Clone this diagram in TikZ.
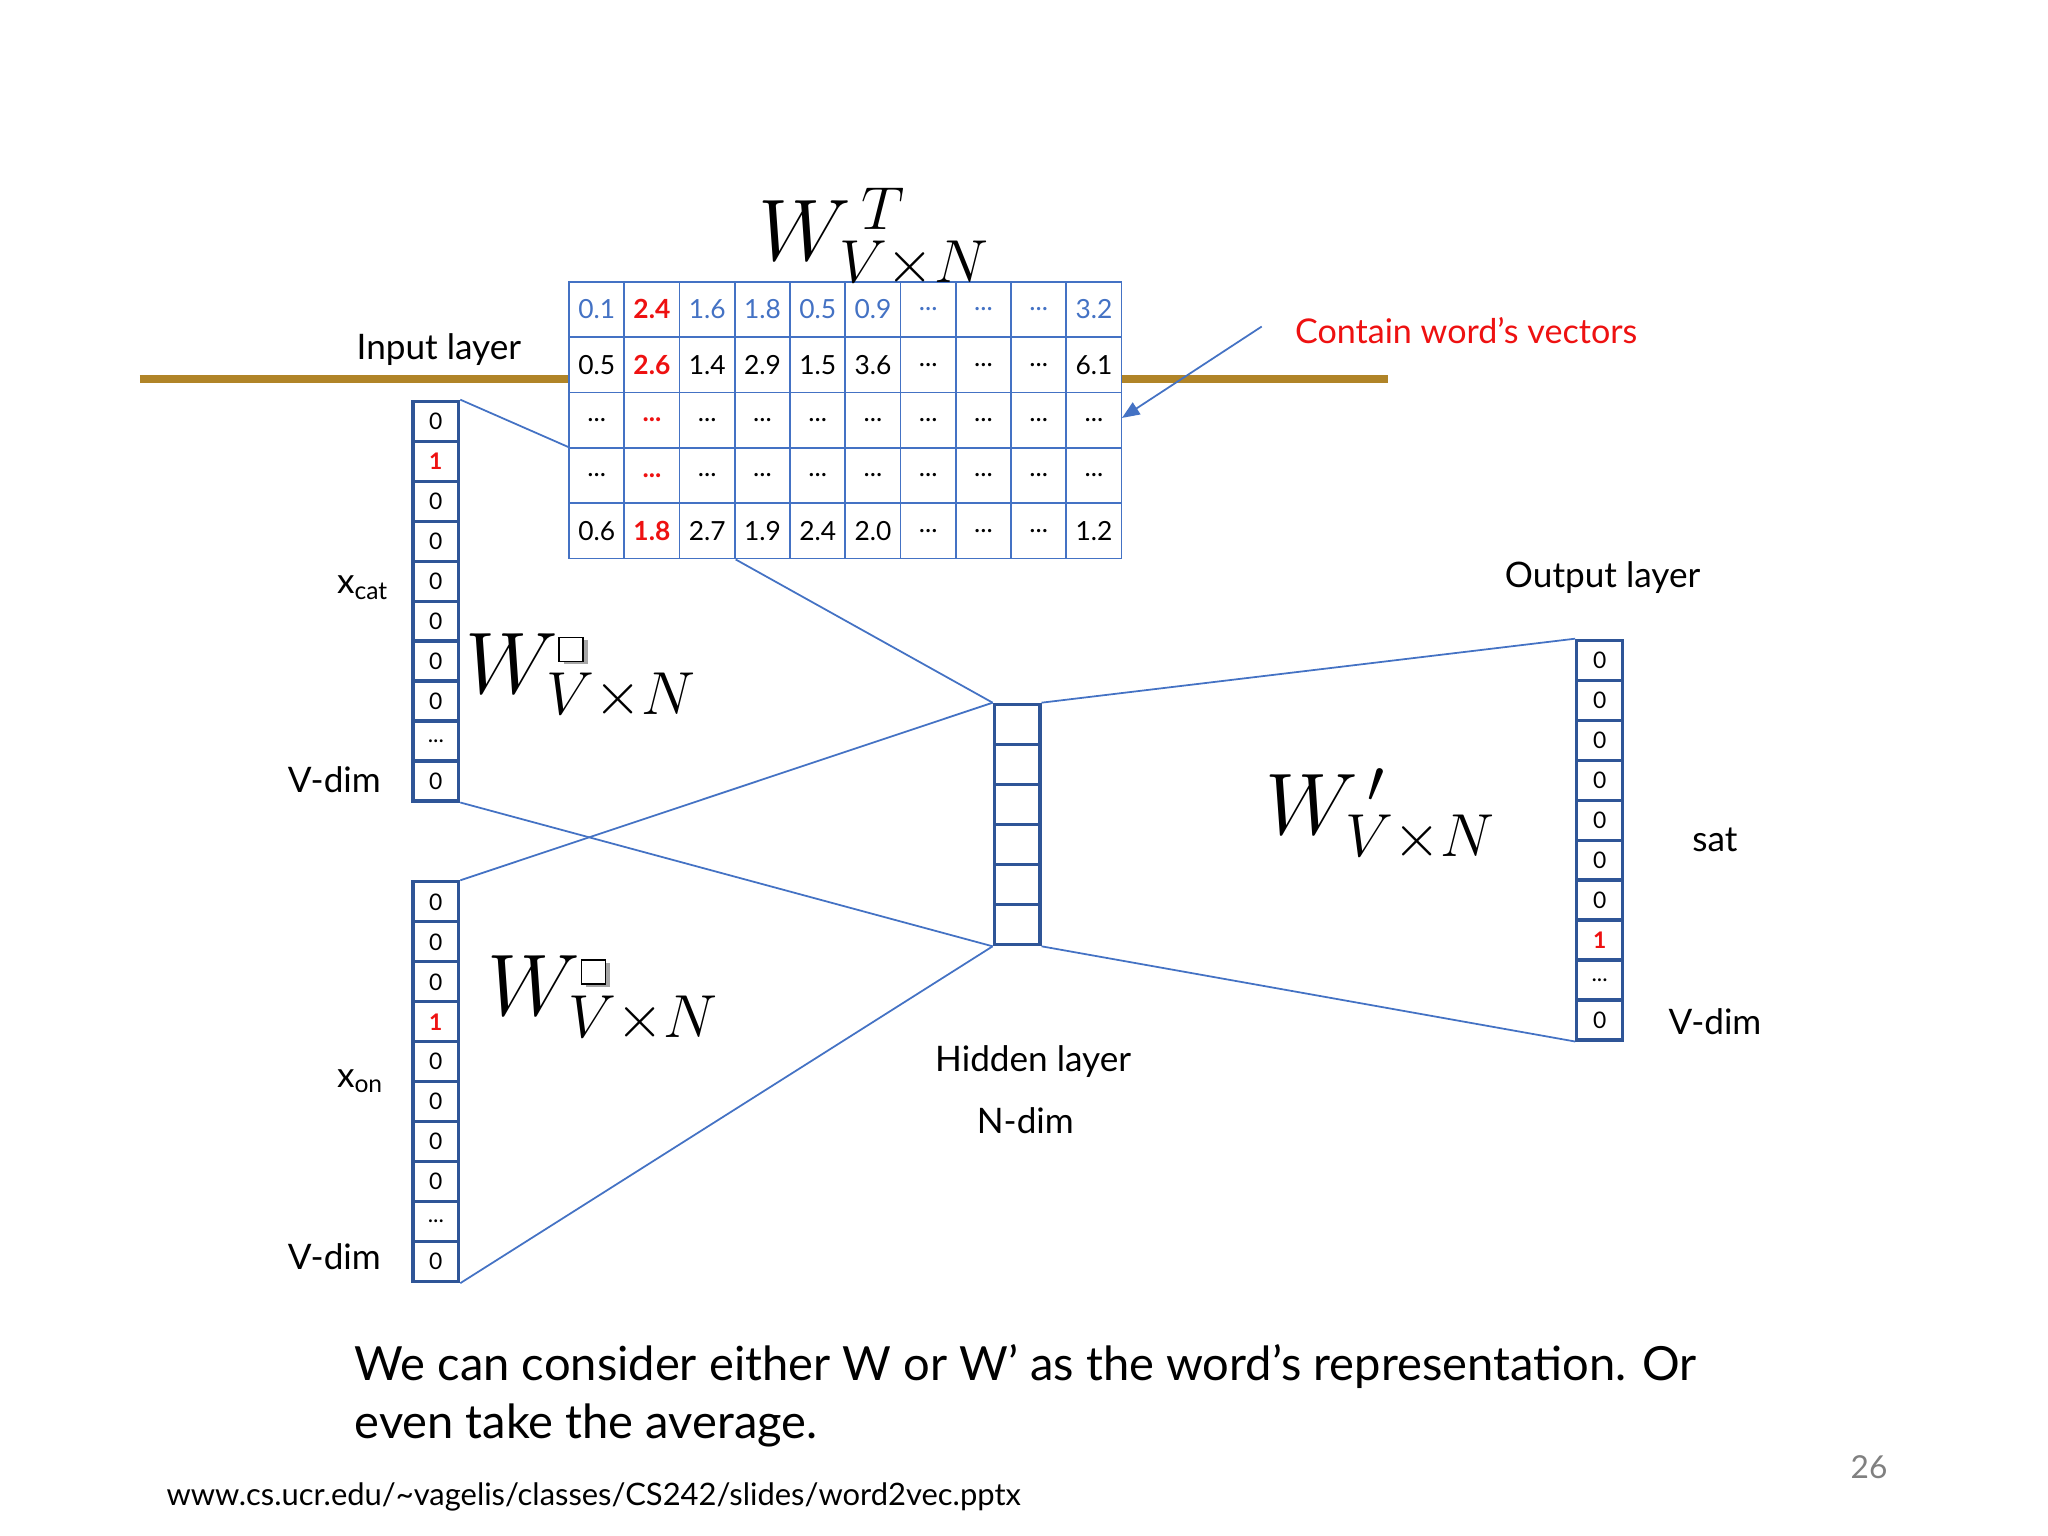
\documentclass[tikz,border=0pt]{standalone}
\usepackage{fontspec}
\setmainfont{Lato}
\usetikzlibrary{arrows.meta}
\definecolor{cb}{HTML}{4472C4}
\definecolor{vb}{HTML}{2F5597}
\definecolor{gold}{HTML}{B08428}
\definecolor{rd}{HTML}{EE1111}
\newlength{\unitx}\setlength{\unitx}{0.013061cm}
\tikzset{
 cell/.style={draw=cb,line width=0.5pt,minimum width=42.3\unitx,minimum height=42.4\unitx,inner sep=0,font=\fontsize{7.5}{8}\selectfont,anchor=north west},
 vc/.style={draw=vb,line width=0.9pt,minimum width=35\unitx,minimum height=30.6\unitx,inner sep=0,font=\fontsize{6.5}{7}\selectfont,anchor=north west},
 lab/.style={font=\fontsize{10}{12}\selectfont},
 conn/.style={draw=cb,line width=0.5pt},
 big/.style={font=\fontsize{24}{26}\selectfont,anchor=west,inner sep=0}
}
\newcommand{\boxsym}{\tikz[baseline=0pt,x=1cm,y=1cm]{\fill[gray!70](0.05,-0.03) rectangle (0.29,0.21);\draw[fill=white,line width=0.4pt](0,0) rectangle (0.24,0.24);}}
\newcommand{\vxn}{V{\times}N}
\def\ddd{d}
\newcommand{\vv}[1]{\edef\tmpv{#1}\ifx\tmpv\ddd...\else #1\fi}
\begin{document}
\begin{tikzpicture}[x=0.013061cm,y=-0.013061cm]
\useasboundingbox (0,0) rectangle (1568,1176);
\fill[white] (0,0) rectangle (1568,1176);
% gold line
\draw[gold,line width=2.2pt] (107,290) -- (435,290);
\draw[gold,line width=2.2pt] (858,290) -- (1063,290);
% table
\foreach \r/\vals in {0/{0.1,2.4,1.6,1.8,0.5,0.9,d,d,d,3.2},1/{0.5,2.6,1.4,2.9,1.5,3.6,d,d,d,6.1},2/{d,d,d,d,d,d,d,d,d,d},3/{d,d,d,d,d,d,d,d,d,d},4/{0.6,1.8,2.7,1.9,2.4,2.0,d,d,d,1.2}}{
 \foreach \v [count=\c from 0] in \vals {
  \ifnum\c=1
   \node[cell,text=rd,font=\fontsize{7.5}{8}\selectfont\bfseries] (t\r\c) at (435+42.3*\c,215+42.4*\r) {\vv{\v}};
  \else
   \ifnum\r=0
    \node[cell,text=cb] (t\r\c) at (435+42.3*\c,215+42.4*\r) {\vv{\v}};
   \else
    \node[cell] (t\r\c) at (435+42.3*\c,215+42.4*\r) {\vv{\v}};
   \fi
  \fi
 }}
\node[big] (wt) at (580,182) {$W^{\,T}_{\vxn}$};
\node[lab] (il) at (336,268) {Input layer};
\node[lab,text=rd,anchor=west,font=\fontsize{9.7}{12}\selectfont] (cw) at (982,253) {Contain word’s vectors};
\coordinate (cwa) at (966,250);
\coordinate (cwb) at (859,320);
\draw[conn,-{Triangle[length=5pt,width=4pt]}] (cwa) -- (cwb);
% vectors
\foreach \name/\top/\red/\vals in {c/306/1/{0,1,0,0,0,0,0,0,d,0}, o/674/3/{0,0,0,1,0,0,0,0,d,0}, out/489/7/{0,0,0,0,0,0,0,1,d,0}}{
 \foreach \v [count=\i from 0] in \vals {
  \ifnum\i=\red
   \node[vc,text=rd,font=\fontsize{6.5}{7}\selectfont\bfseries] (\name\i) at (\ifnum\top=489 1206\else 315\fi,\top+30.6*\i) {\vv{\v}};
  \else
   \node[vc] (\name\i) at (\ifnum\top=489 1206\else 315\fi,\top+30.6*\i) {\vv{\v}};
  \fi
 }}
% hidden
\foreach \i in {0,...,5}{\node[vc] (h\i) at (760,538+30.7*\i) {};}
% connectors
\draw[conn] (c0.north east) -- (t30.north west);
\draw[conn] (t42.south east) -- (h0.north west);
\draw[conn] (c9.south east) -- (h5.south west);
\draw[conn] (o0.north east) -- (h0.north west);
\draw[conn] (o9.south east) -- (h5.south west);
\draw[conn] (h0.north east) -- (out0.north west);
\draw[conn] (h5.south east) -- (out9.south west);
% labels
\node[lab] (xc) at (278,450) {x\textsubscript{cat}};
\node[lab] (vd1) at (256,597) {V-dim};
\node[lab] (xo) at (276,828) {x\textsubscript{on}};
\node[lab] (vd2) at (256,962) {V-dim};
\node[big] (w1) at (356,518) {$W^{\boxsym}_{\vxn}$};
\node[big] (w2) at (373,765) {$W^{\boxsym}_{\vxn}$};
\node[big] (w3) at (968,624) {$W^{\,\prime}_{\vxn}$};
\node[lab] (ol) at (1227,442) {Output layer};
\node[lab] (sat) at (1313,643) {sat};
\node[lab] (vd3) at (1313,782) {V-dim};
\node[lab] (hl) at (791,813) {Hidden layer};
\node[lab] (nd) at (785,858) {N-dim};
\node[anchor=west,inner sep=0,font=\fontsize{13.4}{16.5}\selectfont,align=left] (bt) at (271,1069) {We can consider either W or W’ as the word’s representation. Or\\even take the average.};
\node[anchor=west,inner sep=0,font=\fontsize{8.8}{10}\selectfont] (url) at (127,1146) {www.cs.ucr.edu/\textasciitilde vagelis/classes/CS242/slides/word2vec.pptx};
\node[text=gray,font=\fontsize{9}{10}\selectfont] (pn) at (1431,1123) {26};
\end{tikzpicture}
\end{document}
